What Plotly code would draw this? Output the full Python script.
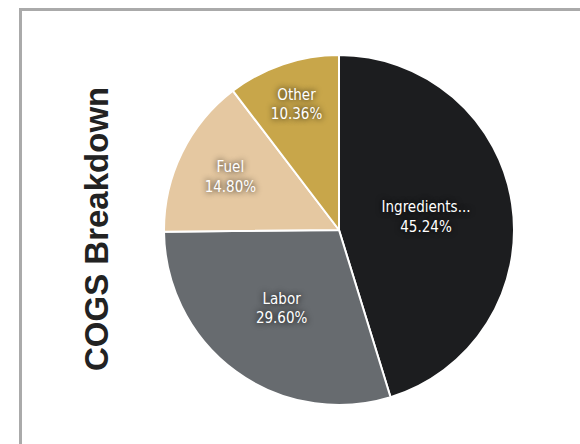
import plotly.graph_objects as go

labels = ["Ingredients...", "Labor", "Fuel", "Other"]
values = [45.24, 29.60, 14.80, 10.36]
colors = ["#1c1d1f", "#676b6f", "#e5c8a1", "#c8a64a"]
title_text = "COGS Breakdown"

W, H = 580, 444

fig = go.Figure()
fig.add_trace(go.Pie(
    labels=labels,
    values=values,
    sort=False,
    direction="clockwise",
    rotation=0,
    marker=dict(colors=colors, line=dict(color="#ffffff", width=2)),
    texttemplate="%{label}<br>%{percent:.2%}",
    textposition="inside",
    insidetextorientation="horizontal",
    textfont=dict(family="DejaVu Sans Condensed, Liberation Sans", size=15, color="#ffffff",
                  shadow="0px 0px 6px #000000"),
    hoverinfo="none",
    showlegend=False,
    domain=dict(x=[164 / W, 514 / W], y=[1 - 405 / H, 1 - 55 / H]),
))

fig.update_layout(
    width=W, height=H,
    margin=dict(l=0, r=0, t=0, b=0),
    paper_bgcolor="#ffffff",
    plot_bgcolor="#ffffff",
    uniformtext=dict(minsize=15, mode="show"),
    shapes=[
        dict(type="line", xref="paper", yref="paper", x0=20 / W, x1=1.02, y0=1 - 9.5 / H, y1=1 - 9.5 / H,
             line=dict(color="#aaaaaa", width=3)),
        dict(type="line", xref="paper", yref="paper", x0=20.5 / W, x1=20.5 / W, y0=-0.02, y1=1 - 8 / H,
             line=dict(color="#aaaaaa", width=3)),
    ],
    annotations=[
        dict(text=title_text, xref="paper", yref="paper", x=97 / W, y=1 - 229 / H,
             showarrow=False, textangle=-90, xanchor="center", yanchor="middle",
             font=dict(family="Liberation Sans", size=33, color="#222222", weight="bold")),
    ],
)

fig.write_html("out.html")
